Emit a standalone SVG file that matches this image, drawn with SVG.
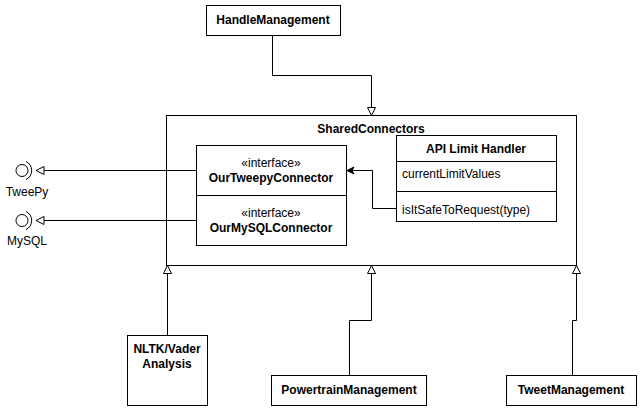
<svg xmlns="http://www.w3.org/2000/svg" width="642" height="411" viewBox="0 0 642 411">
<style>
.box{fill:#fff;stroke:#000;stroke-width:1}
.ln{fill:none;stroke:#000;stroke-width:1}
text{font-family:"Liberation Sans",Arial,sans-serif;font-size:12px;fill:#000}
.b{font-weight:bold}
.c{text-anchor:middle}
</style>
<defs>
<marker id="tri" markerUnits="userSpaceOnUse" markerWidth="10" markerHeight="10" refX="8" refY="4" orient="auto" overflow="visible">
<path d="M0,0 L8,4 L0,8 Z" fill="#fff" stroke="#000" stroke-width="1"/>
</marker>
<marker id="arr" markerUnits="userSpaceOnUse" markerWidth="10" markerHeight="10" refX="7" refY="3.5" orient="auto" overflow="visible">
<path d="M0,0 L7,3.5 L0,7 L2,3.5 Z" fill="#000" stroke="#000" stroke-width="1"/>
</marker>
</defs>

<g id="SharedConnectors">
<rect class="box" x="166.5" y="115.5" width="410" height="150"/>
<text class="b c" x="371" y="133">SharedConnectors</text>
</g>

<g id="HandleManagement">
<rect class="box" x="206.5" y="5.5" width="134" height="30"/>
<text class="b c" x="273" y="24">HandleManagement</text>
</g>

<g id="Interfaces">
<rect class="box" x="196.5" y="145.5" width="150" height="100"/>
<line class="ln" x1="196.5" y1="195.5" x2="346.5" y2="195.5"/>
<text class="c" x="271" y="167">«interface»</text>
<text class="b c" x="271" y="182">OurTweepyConnector</text>
<text class="c" x="271" y="217">«interface»</text>
<text class="b c" x="271" y="232">OurMySQLConnector</text>
</g>

<g id="APILimitHandler">
<rect class="box" x="396.5" y="135.5" width="160" height="86"/>
<line class="ln" x1="396.5" y1="161.5" x2="556.5" y2="161.5"/>
<line class="ln" x1="396.5" y1="191.5" x2="556.5" y2="191.5"/>
<text class="b c" x="476" y="153">API Limit Handler</text>
<text x="402" y="178">currentLimitValues</text>
<text x="402" y="214">isItSafeToRequest(type)</text>
</g>

<g id="TweePy">
<circle class="ln" cx="22" cy="170.5" r="6"/>
<path class="ln" d="M26 161.5 A10 10 0 0 1 26 179.5"/>
<text class="c" x="27" y="196">TweePy</text>
</g>

<g id="MySQL">
<circle class="ln" cx="22" cy="220.5" r="6"/>
<path class="ln" d="M26 211.5 A10 10 0 0 1 26 229.5"/>
<text class="c" x="27" y="245">MySQL</text>
</g>

<g id="NLTKVader">
<rect class="box" x="127.5" y="335.5" width="80" height="70"/>
<text class="b c" x="167" y="353">NLTK/Vader</text>
<text class="b c" x="167" y="368">Analysis</text>
</g>

<g id="PowertrainManagement">
<rect class="box" x="271.5" y="375.5" width="155" height="30"/>
<text class="b c" x="349" y="394">PowertrainManagement</text>
</g>

<g id="TweetManagement">
<rect class="box" x="506.5" y="375.5" width="130" height="30"/>
<text class="b c" x="571" y="394">TweetManagement</text>
</g>

<g id="connectors">
<path class="ln" d="M272.5 35.5 V75.5 H371.5 V115.5" marker-end="url(#tri)"/>
<path class="ln" d="M396.5 208.5 H372.5 V170.5 H347" marker-end="url(#arr)"/>
<path class="ln" d="M196.5 170.5 H36" marker-end="url(#tri)"/>
<path class="ln" d="M196.5 220.5 H36" marker-end="url(#tri)"/>
<path class="ln" d="M167.5 335.5 V265.5" marker-end="url(#tri)"/>
<path class="ln" d="M349.5 375.5 V320.5 H371.5 V265.5" marker-end="url(#tri)"/>
<path class="ln" d="M572.5 375.5 V320.5 H576.5 V265.5" marker-end="url(#tri)"/>
</g>
</svg>
